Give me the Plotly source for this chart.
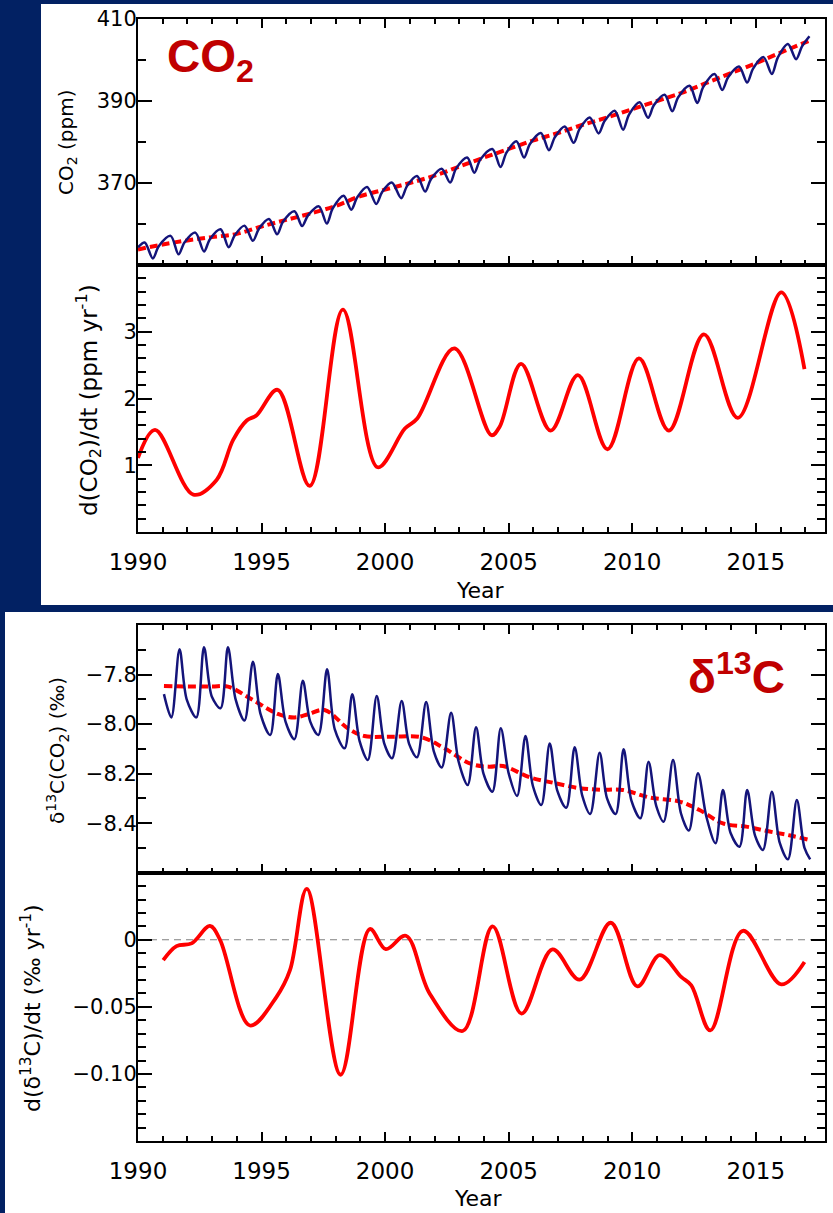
import plotly.graph_objects as go

# ---------------- data ----------------
# CO2 monthly-ish curve (key points: peaks, troughs, knees)
co2_t = [1990.00, 1990.27, 1990.60, 1990.84, 1991.32, 1991.64, 1991.88, 1992.32, 1992.67, 1992.91,
         1993.34, 1993.67, 1993.91, 1994.31, 1994.65, 1994.89, 1995.30, 1995.63, 1995.87, 1996.33,
         1996.64, 1996.88, 1997.32, 1997.64, 1997.88, 1998.32, 1998.63, 1998.87, 1999.27, 1999.64,
         1999.88, 2000.27, 2000.65, 2000.89, 2001.29, 2001.62, 2001.86, 2002.29, 2002.63, 2002.87,
         2003.32, 2003.61, 2003.85, 2004.34, 2004.67, 2004.91, 2005.31, 2005.62, 2005.86, 2006.30,
         2006.63, 2006.87, 2007.27, 2007.63, 2007.87, 2008.28, 2008.64, 2008.88, 2009.29, 2009.63,
         2009.87, 2010.30, 2010.64, 2010.88, 2011.31, 2011.62, 2011.86, 2012.32, 2012.63, 2012.87,
         2013.33, 2013.64, 2013.88, 2014.32, 2014.65, 2014.89, 2015.31, 2015.65, 2015.89, 2016.30,
         2016.63, 2016.87, 2017.17]
co2_v = [354.3, 355.5, 351.6, 354.6, 357.1, 352.6, 355.5, 357.9, 353.3, 356.3,
         358.7, 354.3, 357.2, 359.6, 355.9, 358.8, 361.2, 357.5, 360.6, 363.1,
         359.5, 362.1, 364.3, 360.1, 363.8, 366.9, 363.5, 366.5, 369.0, 364.9,
         367.8, 370.1, 366.3, 369.3, 371.7, 367.9, 371.0, 373.5, 370.1, 373.5,
         376.2, 372.5, 375.7, 378.3, 373.9, 377.4, 380.2, 376.2, 379.5, 382.2,
         378.0, 381.2, 383.8, 379.8, 383.2, 386.0, 382.1, 385.1, 387.6, 383.0,
         386.7, 389.7, 385.9, 389.0, 391.5, 387.5, 390.9, 393.7, 389.5, 393.4,
         396.6, 392.7, 395.8, 398.4, 394.5, 397.9, 400.7, 396.6, 400.6, 403.9,
         400.2, 403.3, 405.8]

# CO2 trend (red dashed)
co2_trend_t = [1990.0, 1991.0, 1992.0, 1993.0, 1994.0, 1995.0, 1996.0, 1997.0, 1998.0, 1999.0,
               2000.0, 2001.0, 2002.0, 2003.0, 2004.0, 2005.0, 2006.0, 2007.0, 2008.0, 2009.0,
               2010.0, 2011.0, 2012.0, 2013.0, 2014.0, 2015.0, 2016.0, 2017.17]
co2_trend_v = [353.8, 355.0, 356.0, 356.8, 357.6, 359.4, 361.0, 362.6, 364.4, 366.8,
               368.4, 370.0, 371.8, 374.0, 376.2, 378.3, 380.4, 382.2, 384.2, 386.0,
               388.0, 390.0, 392.0, 394.4, 396.8, 399.2, 401.8, 404.7]

# d(CO2)/dt (ppm/yr)
dco2_t = [1990.00, 1990.69, 1992.24, 1993.18, 1993.85, 1994.40, 1994.80, 1995.65,
          1996.95, 1998.29, 1999.70, 2000.80, 2001.30, 2002.80, 2004.30, 2004.64, 2005.50, 2006.70,
          2007.80, 2009.00, 2010.27, 2011.48, 2012.90, 2014.27, 2016.03, 2016.97]
dco2_v = [1.11, 1.53, 0.56, 0.78, 1.38, 1.67, 1.75, 2.13,
          0.69, 3.33, 0.97, 1.55, 1.70, 2.75, 1.45, 1.58, 2.52, 1.52,
          2.35, 1.24, 2.60, 1.52, 2.96, 1.71, 3.59, 2.44]

# delta13C curve (key points)
d13_t = [1991.05, 1991.35, 1991.68, 1991.97, 1992.36, 1992.67, 1992.99, 1993.34, 1993.64, 1993.95,
         1994.31, 1994.65, 1994.96, 1995.35, 1995.66, 1995.97, 1996.33, 1996.67, 1996.97, 1997.30,
         1997.65, 1997.96, 1998.36, 1998.67, 1998.97, 1999.30, 1999.66, 1999.97, 2000.28, 2000.67,
         2000.97, 2001.29, 2001.66, 2001.97, 2002.29, 2002.67, 2002.97, 2003.34, 2003.68, 2003.98,
         2004.34, 2004.68, 2005.00, 2005.34, 2005.68, 2005.98, 2006.32, 2006.66, 2006.97, 2007.33,
         2007.67, 2007.98, 2008.30, 2008.68, 2008.98, 2009.33, 2009.65, 2009.97, 2010.33, 2010.66,
         2010.97, 2011.27, 2011.65, 2011.97, 2012.29, 2012.66, 2013.00, 2013.37, 2013.67, 2013.98,
         2014.34, 2014.65, 2014.97, 2015.29, 2015.65, 2015.97, 2016.30, 2016.66, 2016.97, 2017.20]
d13_v = [-7.879, -7.973, -7.698, -7.900, -7.973, -7.690, -7.890, -7.936, -7.690, -7.900,
         -7.986, -7.748, -7.960, -8.044, -7.798, -7.990, -8.061, -7.825, -7.990, -8.044,
         -7.779, -8.020, -8.098, -7.880, -8.070, -8.145, -7.887, -8.080, -8.138, -7.907,
         -8.080, -8.134, -7.911, -8.110, -8.175, -7.954, -8.150, -8.246, -8.013, -8.200,
         -8.273, -8.017, -8.199, -8.290, -8.048, -8.250, -8.327, -8.078, -8.270, -8.338,
         -8.094, -8.290, -8.363, -8.116, -8.300, -8.363, -8.102, -8.310, -8.380, -8.152,
         -8.330, -8.394, -8.145, -8.360, -8.430, -8.199, -8.374, -8.481, -8.266, -8.440,
         -8.495, -8.266, -8.450, -8.508, -8.273, -8.480, -8.546, -8.307, -8.500, -8.546]

# delta13C trend (red dashed)
d13_trend_t = [1991.05, 1992.0, 1993.0, 1993.64, 1994.65, 1995.66, 1996.33, 1996.9, 1997.55, 1998.49,
               1999.16, 2000.24, 2001.46, 2002.4, 2003.48, 2004.2, 2004.77, 2005.85, 2006.8, 2007.87,
               2008.7, 2009.62, 2010.7, 2011.92, 2012.72, 2013.67, 2014.61, 2015.56, 2016.4, 2017.17]
d13_trend_v = [-7.846, -7.848, -7.848, -7.849, -7.903, -7.959, -7.973, -7.960, -7.943, -8.017,
               -8.048, -8.051, -8.053, -8.098, -8.161, -8.172, -8.169, -8.215, -8.237, -8.259,
               -8.265, -8.266, -8.296, -8.313, -8.347, -8.401, -8.414, -8.434, -8.450, -8.468]

# d(delta13C)/dt (permil/yr)
dd13_t = [1991.02, 1991.56, 1992.17, 1992.91, 1993.32, 1994.53, 1995.60, 1996.15, 1996.83,
          1998.20, 1999.38, 2000.03, 2000.84, 2001.80, 2003.14, 2004.35, 2005.52, 2006.77, 2007.87,
          2009.13, 2010.21, 2011.11, 2011.98, 2012.39, 2013.16, 2014.48, 2016.03, 2016.97]
dd13_v = [-0.0152, -0.0047, -0.0027, 0.0103, 0.0, -0.0639, -0.0427, -0.0227, 0.038,
          -0.1006, 0.008, -0.007, 0.003, -0.040, -0.068, 0.010, -0.055, -0.0072, -0.0297,
          0.0127, -0.0347, -0.0115, -0.0277, -0.034, -0.0676, 0.0067, -0.0332, -0.0165]

x_range = [1990, 2017.8]
co2_ticks = [370, 390, 410]
dco2_ticks = [1, 2, 3]
d13_ticks = [-8.4, -8.2, -8.0, -7.8]
d13_ticktext = ["\u22128.4", "\u22128.2", "\u22128.0", "\u22127.8"]
dd13_ticks = [-0.10, -0.05, 0]
dd13_ticktext = ["\u22120.10", "\u22120.05", "0"]

# ---------------- geometry helpers ----------------
W, H = 833, 1213
def px(x):
    return x / W
def py(y):
    return 1 - y / H

NAVY = "#022163"
BLUE = "#14147a"
RED = "#ff0000"
DARKRED = "#c00000"
FONT = "DejaVu Sans"

fig = go.Figure()

fig.add_trace(go.Scatter(x=co2_trend_t, y=co2_trend_v, mode="lines", xaxis="x", yaxis="y",
                         line=dict(color=RED, width=4, dash="8px,4px", shape="spline")))
fig.add_trace(go.Scatter(x=co2_t, y=co2_v, mode="lines", xaxis="x", yaxis="y",
                         line=dict(color=BLUE, width=2.5, shape="spline", smoothing=0.9)))
fig.add_trace(go.Scatter(x=dco2_t, y=dco2_v, mode="lines", xaxis="x2", yaxis="y2",
                         line=dict(color=RED, width=3.8, shape="spline")))
fig.add_trace(go.Scatter(x=d13_trend_t, y=d13_trend_v, mode="lines", xaxis="x3", yaxis="y3",
                         line=dict(color=RED, width=4, dash="8px,4px", shape="spline")))
fig.add_trace(go.Scatter(x=d13_t, y=d13_v, mode="lines", xaxis="x3", yaxis="y3",
                         line=dict(color=BLUE, width=2.5, shape="spline", smoothing=0.9)))
fig.add_trace(go.Scatter(x=dd13_t, y=dd13_v, mode="lines", xaxis="x4", yaxis="y4",
                         line=dict(color=RED, width=3.8, shape="spline")))

xdom = [px(138), px(825)]

def xaxis(anchor, labels, mirror):
    return dict(domain=xdom, anchor=anchor, range=x_range, tick0=1990, dtick=5,
                ticks="inside", ticklen=9, tickwidth=1.5, tickcolor="black",
                showline=True, linecolor="black", linewidth=2, mirror=mirror,
                showgrid=False, zeroline=False, showticklabels=labels,
                ticklabelstandoff=8,
                tickfont=dict(family=FONT, size=23, color="black"),
                minor=dict(dtick=1, tick0=1990, ticks="inside", ticklen=5, tickwidth=1.5,
                           tickcolor="black", showgrid=False))

def yaxis(anchor, dom, rng, tickvals, ticktext, minor_dtick, minor_tick0):
    return dict(domain=dom, anchor=anchor, range=rng, tickvals=tickvals, ticktext=ticktext,
                ticks="inside", ticklen=14, tickwidth=1.5, tickcolor="black",
                showline=True, linecolor="black", linewidth=2, mirror="allticks",
                showgrid=False, zeroline=False, ticklabelstandoff=-5,
                tickfont=dict(family=FONT, size=21, color="black"),
                minor=dict(dtick=minor_dtick, tick0=minor_tick0, ticks="inside", ticklen=8,
                           tickwidth=1.5, tickcolor="black", showgrid=False))

layout = dict(
    width=W, height=H, margin=dict(l=0, r=0, t=0, b=0, autoexpand=False),
    paper_bgcolor=NAVY, plot_bgcolor="white", showlegend=False,
    xaxis=xaxis("y", False, "allticks"),
    xaxis2=xaxis("y2", True, True),
    xaxis3=xaxis("y3", False, "allticks"),
    xaxis4=xaxis("y4", True, True),
    yaxis=yaxis("x", [py(265), py(19)], [350, 410], co2_ticks, [str(v) for v in co2_ticks], 10, 350),
    yaxis2=yaxis("x2", [py(532), py(265)], [0, 4], dco2_ticks, [str(v) for v in dco2_ticks], 0.2, 0),
    yaxis3=yaxis("x3", [py(872.7), py(625)], [-8.6, -7.6], d13_ticks, d13_ticktext, 0.1, -8.6),
    yaxis4=yaxis("x4", [py(1141), py(872.7)], [-0.15, 0.05], dd13_ticks, dd13_ticktext, 0.01, -0.15),
)
fig.update_layout(**layout)

# white panels
fig.add_shape(type="rect", xref="paper", yref="paper", x0=px(41), x1=1.0, y0=py(605), y1=py(4),
              fillcolor="white", line=dict(width=0), layer="below")
fig.add_shape(type="rect", xref="paper", yref="paper", x0=px(5), x1=1.0, y0=0.0, y1=py(612),
              fillcolor="white", line=dict(width=0), layer="below")
# zero line in bottom derivative panel
fig.add_shape(type="line", xref="x4 domain", yref="y4", x0=0, x1=1, y0=0, y1=0,
              line=dict(color="#808080", width=1.2, dash="7px,5px"), layer="below")

def ann(text, x, y, size, angle=0, color="black", family=FONT, xanchor="center", yanchor="middle"):
    fig.add_annotation(text=text, x=px(x), y=py(y), xref="paper", yref="paper", showarrow=False,
                       textangle=angle, xanchor=xanchor, yanchor=yanchor,
                       font=dict(family=family, size=size, color=color))

ann("CO<sub>2</sub> (ppm)", 67, 143, 20, angle=-90)
ann("d(CO<sub>2</sub>)/dt (ppm yr<sup>-1</sup>)", 88, 400, 23, angle=-90)
ann("Year", 480, 590, 22)
ann("\u03b4<sup>13</sup>C(CO<sub>2</sub>) (\u2030)", 57, 751, 20, angle=-90)
ann("d(\u03b4<sup>13</sup>C)/dt (\u2030 yr<sup>-1</sup>)", 31, 1008, 22, angle=-90)
ann("Year", 478, 1198, 22)
ann("<b>CO<sub>2</sub></b>", 165, 60, 46, color=DARKRED, family="Liberation Sans", xanchor="left")
ann("<b>\u03b4<sup>13</sup>C</b>", 736, 674, 46, color=DARKRED, family="Liberation Sans")

fig.write_html("out.html")
